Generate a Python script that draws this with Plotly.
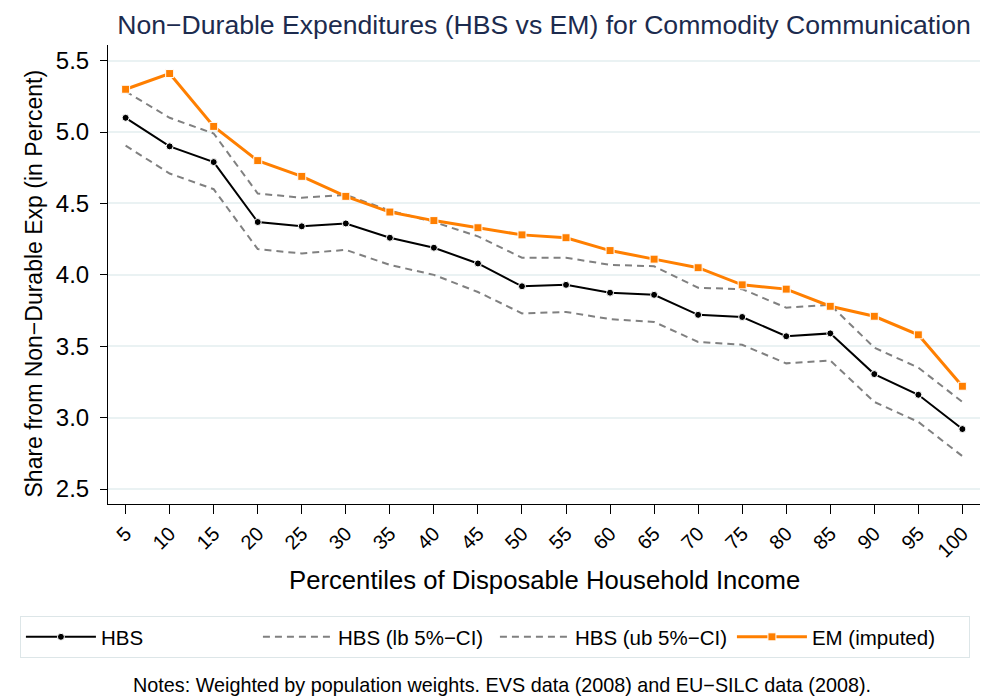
import plotly.graph_objects as go

# percentiles of disposable household income
percentiles = [5, 10, 15, 20, 25, 30, 35, 40, 45, 50, 55, 60, 65, 70, 75, 80, 85, 90, 95, 100]

hbs = [5.10, 4.90, 4.79, 4.37, 4.34, 4.36, 4.26, 4.19, 4.08, 3.92,
       3.93, 3.875, 3.86, 3.72, 3.705, 3.57, 3.59, 3.305, 3.16, 2.92]
hbs_lb = [4.905, 4.71, 4.60, 4.18, 4.15, 4.175, 4.07, 4.00, 3.88, 3.73,
          3.74, 3.69, 3.67, 3.53, 3.51, 3.38, 3.40, 3.11, 2.97, 2.73]
hbs_ub = [5.285, 5.10, 4.99, 4.57, 4.54, 4.56, 4.45, 4.37, 4.27, 4.12,
          4.12, 4.07, 4.06, 3.91, 3.90, 3.77, 3.79, 3.49, 3.35, 3.11]
em = [5.30, 5.41, 5.04, 4.80, 4.69, 4.55, 4.44, 4.38, 4.33, 4.28,
      4.26, 4.17, 4.11, 4.05, 3.93, 3.90, 3.78, 3.71, 3.58, 3.22]

y_ticks = [2.5, 3.0, 3.5, 4.0, 4.5, 5.0, 5.5]

FONT = "Liberation Sans, Arial, Helvetica, sans-serif"
ORANGE = "#ff7f00"
GREY = "#808080"

fig = go.Figure()

fig.add_trace(go.Scatter(
    x=percentiles, y=hbs, name="HBS", mode="lines+markers",
    line=dict(color="black", width=2),
    marker=dict(symbol="circle", size=7, color="black", line=dict(color="white", width=1)),
))
fig.add_trace(go.Scatter(
    x=percentiles, y=hbs_lb, name="HBS (lb 5%−CI)", mode="lines",
    line=dict(color=GREY, width=2, dash="7px,5px"),
))
fig.add_trace(go.Scatter(
    x=percentiles, y=hbs_ub, name="HBS (ub 5%−CI)", mode="lines",
    line=dict(color=GREY, width=2, dash="7px,5px"),
))
fig.add_trace(go.Scatter(
    x=percentiles, y=em, name="EM (imputed)", mode="lines+markers",
    line=dict(color=ORANGE, width=3),
    marker=dict(symbol="square", size=8, color=ORANGE, line=dict(color="white", width=1)),
))

# the page body adds an 8px offset, so the figure is 8px smaller on each side
fig.update_layout(
    width=995, height=690,
    margin=dict(l=91, r=23, t=37, b=194),
    paper_bgcolor="white", plot_bgcolor="white",
    font=dict(family=FONT, color="black"),
    title=dict(
        text="Non−Durable Expenditures (HBS vs EM) for Commodity Communication",
        x=0.5, xref="paper", xanchor="center", y=0.99, yref="container", yanchor="top",
        font=dict(size=26.6, color="#1c2b4e", family=FONT),
    ),
    showlegend=True,
    legend=dict(
        orientation="h", x=-0.101, xanchor="left", y=-0.244, yanchor="top",
        bordercolor="#dde6e8", borderwidth=1, bgcolor="white",
        font=dict(size=20.5, family=FONT), entrywidth=152,
        itemwidth=70,
    ),
)

fig.update_xaxes(
    range=[3, 102], tickvals=percentiles, ticktext=[str(p) for p in percentiles],
    tickangle=-45, tickfont=dict(size=20), ticks="outside", ticklen=9, tickcolor="black",
    showline=True, linecolor="black", linewidth=1, showgrid=False, zeroline=False,
)
fig.update_yaxes(
    range=[2.395, 5.61], tickvals=y_ticks, ticktext=[f"{v:.1f}" for v in y_ticks],
    tickfont=dict(size=24), ticks="outside", ticklen=7, tickcolor="black",
    ticklabelstandoff=6,
    showline=True, linecolor="black", linewidth=1,
    showgrid=True, gridcolor="#eaf2f3", gridwidth=2, zeroline=False,
)

# axis titles and note placed as annotations
fig.add_annotation(
    text="Percentiles of Disposable Household Income", xref="paper", yref="paper",
    x=0.5, y=-0.1656, xanchor="center", yanchor="middle", showarrow=False,
    font=dict(size=25.7),
)
fig.add_annotation(
    text="Share from Non−Durable Exp (in Percent)", xref="paper", yref="paper",
    x=-0.0851, y=0.48, xanchor="center", yanchor="middle", showarrow=False,
    textangle=-90, font=dict(size=23),
)
fig.add_annotation(
    text="Notes: Weighted by population weights. EVS data (2008) and EU−SILC data (2008).",
    xref="paper", yref="paper", x=0.452, y=-0.394, xanchor="center", yanchor="middle",
    showarrow=False, font=dict(size=19.8),
)

fig.write_html("out.html")
